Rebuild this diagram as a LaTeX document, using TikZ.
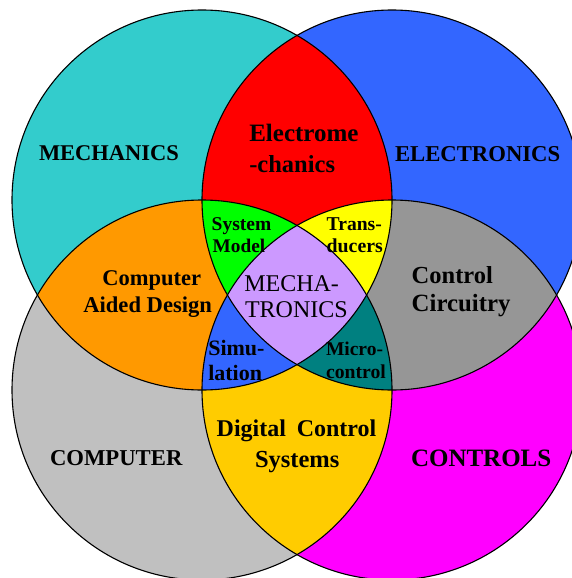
\documentclass[tikz,border=0pt]{standalone}
\usepackage{fontspec}
\setmainfont{Liberation Serif}
\definecolor{cMech}{HTML}{33CCCC}
\definecolor{cElec}{HTML}{3366FF}
\definecolor{cComp}{HTML}{C0C0C0}
\definecolor{cCtrl}{HTML}{FF00FF}
\definecolor{cEM}{HTML}{FF0000}
\definecolor{cCAD}{HTML}{FF9900}
\definecolor{cCC}{HTML}{969696}
\definecolor{cDCS}{HTML}{FFCC00}
\definecolor{cSM}{HTML}{00FF00}
\definecolor{cTR}{HTML}{FFFF00}
\definecolor{cSIM}{HTML}{3366FF}
\definecolor{cMC}{HTML}{008080}
\definecolor{cMT}{HTML}{CC99FF}
\tikzset{
  lbl/.style={anchor=base west, inner sep=0pt, outer sep=0pt, font=\bfseries\fontsize{#1}{#1}\selectfont},
  lblr/.style={anchor=base west, inner sep=0pt, outer sep=0pt, font=\fontsize{#1}{#1}\selectfont},
  rim/.style={draw=black, line width=1.1pt}
}
\begin{document}
\begin{tikzpicture}[x=1pt,y=-1pt]
\useasboundingbox (0,0) rectangle (572,578);
\clip (0,0) rectangle (572,578);
\def\R{190}
\coordinate (A) at (202,200);
\coordinate (B) at (392,200);
\coordinate (C) at (202,390);
\coordinate (D) at (392,390);
% base circles
\fill[cMech] (A) circle[radius=\R];
\fill[cElec] (B) circle[radius=\R];
\fill[cComp] (C) circle[radius=\R];
\fill[cCtrl] (D) circle[radius=\R];
% pairwise
\begin{scope}\clip (A) circle[radius=\R]; \fill[cEM] (B) circle[radius=\R];\end{scope}
\begin{scope}\clip (A) circle[radius=\R]; \fill[cCAD] (C) circle[radius=\R];\end{scope}
\begin{scope}\clip (B) circle[radius=\R]; \fill[cCC] (D) circle[radius=\R];\end{scope}
\begin{scope}\clip (C) circle[radius=\R]; \fill[cDCS] (D) circle[radius=\R];\end{scope}
% triples
\begin{scope}\clip (A) circle[radius=\R]; \clip (B) circle[radius=\R]; \fill[cSM] (C) circle[radius=\R];\end{scope}
\begin{scope}\clip (A) circle[radius=\R]; \clip (B) circle[radius=\R]; \fill[cTR] (D) circle[radius=\R];\end{scope}
\begin{scope}\clip (A) circle[radius=\R]; \clip (C) circle[radius=\R]; \fill[cSIM] (D) circle[radius=\R];\end{scope}
\begin{scope}\clip (B) circle[radius=\R]; \clip (C) circle[radius=\R]; \fill[cMC] (D) circle[radius=\R];\end{scope}
% quadruple
\begin{scope}\clip (A) circle[radius=\R]; \clip (B) circle[radius=\R]; \clip (C) circle[radius=\R]; \fill[cMT] (D) circle[radius=\R];\end{scope}
% outlines
\draw[rim] (A) circle[radius=\R];
\draw[rim] (B) circle[radius=\R];
\draw[rim] (C) circle[radius=\R];
\draw[rim] (D) circle[radius=\R];
% labels
\node[lbl=22.5] (mech) at (39,160.7) {MECHANICS};
\node[lbl=22.7] (elec) at (395,161.5) {ELECTRONICS};
\node[lbl=22.7] (comp) at (50,465.7) {COMPUTER};
\node[lbl=25] (ctrl) at (411,466.7) {CONTROLS};
\node[lbl=25] (em1) at (249.3,141.7) {Electrome};
\node[lbl=24.5] (em2) at (249.3,172.7) {-chanics};
\node[lbl=19.5] (sm1) at (211.7,230) {System};
\node[lbl=19.3] (sm2) at (212.7,252.7) {Model};
\node[lbl=19.6] (tr1) at (326.7,230) {Trans-};
\node[lbl=19.8] (tr2) at (326.7,252.7) {ducers};
\node[lblr=24] (mt1) at (244.3,291.7) {MECHA-};
\node[lblr=24] (mt2) at (245,317.5) {TRONICS};
\node[lbl=22] (si1) at (208.3,355.7) {Simu-};
\node[lbl=22] (si2) at (208.3,380) {lation};
\node[lbl=19.5] (mc1) at (326,355.7) {Micro-};
\node[lbl=19.7] (mc2) at (326,378.3) {control};
\node[lbl=22.5] (cad1) at (102.3,285.7) {Computer};
\node[lbl=22.6] (cad2) at (83.3,312.3) {Aided Design};
\node[lbl=24.5] (cc1) at (411.7,283.3) {Control};
\node[lbl=24.8] (cc2) at (411.7,311.7) {Circuitry};
\node[lbl=24] (dcs1) at (216.7,436.7) {Digital\hspace{0.2em} Control};
\node[lbl=24.5] (dcs2) at (255,467.3) {Systems};
\end{tikzpicture}
\end{document}
